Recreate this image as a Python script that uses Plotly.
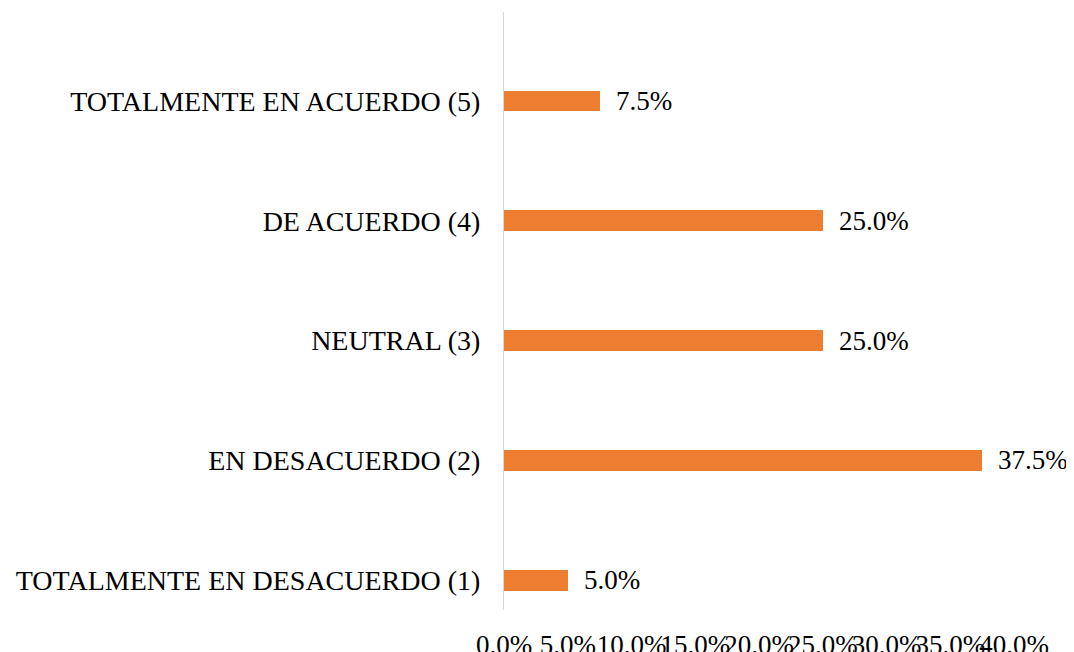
import plotly.graph_objects as go

categories = [
    "TOTALMENTE EN DESACUERDO (1)",
    "EN DESACUERDO (2)",
    "NEUTRAL (3)",
    "DE ACUERDO (4)",
    "TOTALMENTE EN ACUERDO (5)",
]
values = [5.0, 37.5, 25.0, 25.0, 7.5]
tick_vals = [0, 5, 10, 15, 20, 25, 30, 35, 40]
tick_text = ["0.0%", "5.0%", "10.0%", "15.0%", "20.0%", "25.0%", "30.0%", "35.0%", "40.0%"]

FONT = "Liberation Serif"

fig = go.Figure()
fig.add_trace(go.Bar(
    x=values,
    y=categories,
    orientation="h",
    width=0.175,
    marker=dict(color="#ED7D31", line=dict(width=0)),
    hoverinfo="skip",
))

for v, c in zip(values, categories):
    fig.add_annotation(
        x=v, y=c, xref="x", yref="y",
        text=f"{v:.1f}%",
        showarrow=False,
        xanchor="left", yanchor="middle",
        xshift=14,
        font=dict(family=FONT, size=27, color="#000000"),
    )

fig.update_layout(
    width=1066, height=644,
    margin=dict(l=496, r=60, t=4, b=42),
    paper_bgcolor="white",
    plot_bgcolor="white",
    showlegend=False,
    font=dict(family=FONT, size=27, color="#000000"),
    bargap=0,
)
fig.update_xaxes(
    range=[0, 40],
    tickvals=tick_vals,
    ticktext=tick_text,
    tickangle=0,
    automargin=False,
    showgrid=False,
    zeroline=False,
    showline=False,
    ticks="",
    ticklabelstandoff=16,
    tickfont=dict(family=FONT, size=27, color="#000000"),
)
fig.update_yaxes(
    type="category",
    categoryorder="array",
    categoryarray=categories,
    range=[-0.25, 4.743],
    automargin=False,
    showgrid=False,
    zeroline=False,
    showline=True,
    linecolor="#D9D9D9",
    linewidth=1,
    ticks="",
    ticklabelstandoff=17,
    tickfont=dict(family=FONT, size=28, color="#000000"),
)

fig.write_html("out.html")
